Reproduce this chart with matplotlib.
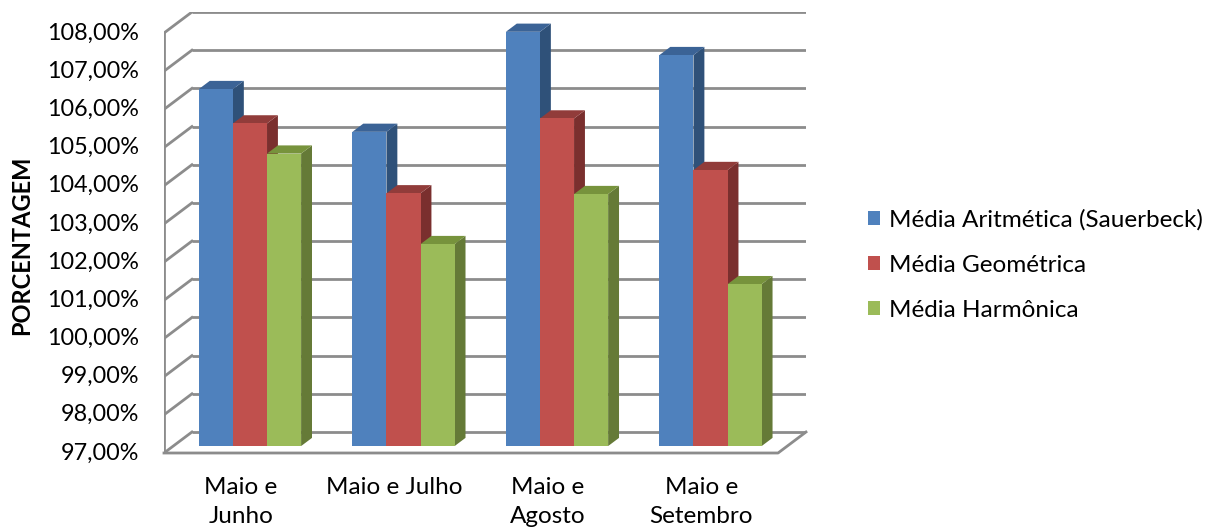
import matplotlib.pyplot as plt
from matplotlib.patches import Polygon, Patch

plt.rcParams['font.family'] = ['Lato', 'DejaVu Sans']

categorias = ['Maio e\nJunho', 'Maio e Julho', 'Maio e\nAgosto', 'Maio e\nSetembro']
series = ['Média Aritmética (Sauerbeck)', 'Média Geométrica', 'Média Harmônica']
aritmetica = [106.35, 105.23, 107.85, 107.24]
geometrica = [105.45, 103.62, 105.58, 104.23]
harmonica = [104.66, 102.29, 103.60, 101.24]
valores = [aritmetica, geometrica, harmonica]
ticks_y = list(range(97, 109))

# cores: frente, topo, lado
cores = [('#4F81BD', '#3B6396', '#2F5179'),
         ('#C0504D', '#913C3A', '#7A2F2E'),
         ('#9BBB59', '#77933C', '#657A37')]

# deslocamento da profundidade (efeito 3D) em unidades de dados
DX, DY = 0.182, 0.55
F0, F1 = 0.33, 0.72
BASE = 97
LARG = 0.222
GRID = '#8C8C8C'

fig = plt.figure(figsize=(12.24, 5.31), dpi=100)
ax = fig.add_axes([164 / 1224, 78 / 531, 642 / 1224, 441 / 531])
ax.set_xlim(0, 4 + DX)
ax.set_ylim(BASE, 108 + DY)
ax.axis('off')

# paredes: linhas de grade no fundo e na lateral esquerda
for v in ticks_y:
    ax.plot([DX, 4 + DX], [v + DY, v + DY], color=GRID, lw=2, zorder=1, solid_capstyle='butt')
    ax.plot([0, DX], [v, v + DY], color=GRID, lw=2, zorder=1)
    ax.plot([-0.035, 0], [v, v], color=GRID, lw=1.5, zorder=1)
ax.plot([0, 0], [BASE, 108], color=GRID, lw=2, zorder=1)
ax.plot([0, 4, 4 + DX], [BASE, BASE, BASE + DY], color=GRID, lw=2, zorder=1,
        clip_on=False)

# barras com frente, topo e lado
for i in range(len(categorias)):
    x_ini = i + 0.5 - 1.5 * LARG
    for s, vals in enumerate(valores):
        v = vals[i]
        xl = x_ini + s * LARG
        xr = xl + LARG
        frente, topo, lado = cores[s]
        lado_pts = [(xr + F0 * DX, BASE + F0 * DY), (xr + F1 * DX, BASE + F1 * DY),
                    (xr + F1 * DX, v + F1 * DY), (xr + F0 * DX, v + F0 * DY)]
        topo_pts = [(xl + F0 * DX, v + F0 * DY), (xr + F0 * DX, v + F0 * DY),
                    (xr + F1 * DX, v + F1 * DY), (xl + F1 * DX, v + F1 * DY)]
        z = 2 + i * 3 + s
        ax.add_patch(Polygon(lado_pts, closed=True, fc=lado, ec='none', zorder=z))
        ax.add_patch(Polygon(topo_pts, closed=True, fc=topo, ec='none', zorder=z))
        ax.bar(xl + F0 * DX, v - BASE, bottom=BASE + F0 * DY, width=LARG, align='edge',
               color=frente, edgecolor='none', zorder=z)

# eixo x e y: rótulos
for i, c in enumerate(categorias):
    ax.text(i + 0.5, BASE - 0.62, c, ha='center', va='top', fontsize=17.5,
            linespacing=1.5, clip_on=False)
for v in ticks_y:
    ax.text(-0.16, v, f'{v},00%', ha='right', va='center', fontsize=16.8, clip_on=False)
fig.text(22 / 1224, 1 - 245 / 531, 'PORCENTAGEM', rotation=90, ha='center', va='center',
         fontsize=17, fontweight='bold')

handles = [Patch(facecolor=c[0]) for c in cores]
fig.legend(handles, series, loc='center left', bbox_to_anchor=(846 / 1224, 1 - 265 / 531),
           frameon=False, fontsize=17.5, handlelength=0.5, handleheight=0.5,
           handletextpad=0.37, labelspacing=0.98)

fig.savefig('out.png', dpi=100)
